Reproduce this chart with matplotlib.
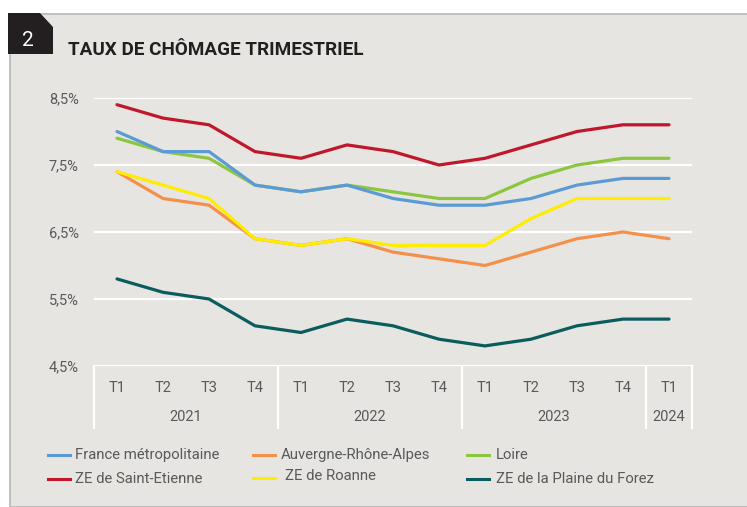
import matplotlib
matplotlib.use("Agg")
import matplotlib.pyplot as plt
import matplotlib.transforms as mtransforms
from matplotlib.patches import Rectangle, Polygon
from matplotlib.lines import Line2D

# donnees (taux de chomage, %)
quarters = ["T1", "T2", "T3", "T4", "T1", "T2", "T3", "T4", "T1", "T2", "T3", "T4", "T1"]
years = ["2021", "2022", "2023", "2024"]
year_centers = [1.5, 5.5, 9.5, 12]
year_bounds = [-0.5, 3.5, 7.5, 11.5, 12.5]

france = [8.0, 7.7, 7.7, 7.2, 7.1, 7.2, 7.0, 6.9, 6.9, 7.0, 7.2, 7.3, 7.3]
auvergne = [7.4, 7.0, 6.9, 6.4, 6.3, 6.4, 6.2, 6.1, 6.0, 6.2, 6.4, 6.5, 6.4]
loire = [7.9, 7.7, 7.6, 7.2, 7.1, 7.2, 7.1, 7.0, 7.0, 7.3, 7.5, 7.6, 7.6]
st_etienne = [8.4, 8.2, 8.1, 7.7, 7.6, 7.8, 7.7, 7.5, 7.6, 7.8, 8.0, 8.1, 8.1]
roanne = [7.4, 7.2, 7.0, 6.4, 6.3, 6.4, 6.3, 6.3, 6.3, 6.7, 7.0, 7.0, 7.0]
forez = [5.8, 5.6, 5.5, 5.1, 5.0, 5.2, 5.1, 4.9, 4.8, 4.9, 5.1, 5.2, 5.2]

yticks = [4.5, 5.5, 6.5, 7.5, 8.5]
ylabels = ["4,5%", "5,5%", "6,5%", "7,5%", "8,5%"]

series = [
    ("France métropolitaine", france, "#5B9BD5"),
    ("Auvergne-Rhône-Alpes", auvergne, "#F5904A"),
    ("Loire", loire, "#8CC63F"),
    ("ZE de Saint-Etienne", st_etienne, "#C1172C"),
    ("ZE de Roanne", roanne, "#FFEC00"),
    ("ZE de la Plaine du Forez", forez, "#0A5C5E"),
]
# ordre de trace (le jaune passe au-dessus de l'orange, etc.)
draw_order = [1, 4, 3, 2, 0, 5]

W, H = 747, 507
BG = "#E6E5E1"
TXT = "#58595B"

plt.rcParams["font.family"] = ["Roboto", "DejaVu Sans"]

fig = plt.figure(figsize=(W / 100, H / 100), dpi=100, facecolor="white")

def fx(px):
    return px / W

def fy(py):
    return 1 - py / H

# panneau gris
fig.patches.append(Rectangle((fx(10), 0), fx(W - 10 + 5), fy(14), transform=fig.transFigure,
                             facecolor=BG, edgecolor="#B8B8B8", lw=1.2, zorder=0))
# pastille noire "2"
badge = [(fx(8), fy(13)), (fx(40), fy(13)), (fx(53), fy(27)), (fx(53), fy(54)), (fx(8), fy(54))]
fig.patches.append(Polygon(badge, closed=True, transform=fig.transFigure,
                           facecolor="#231F20", edgecolor="none", zorder=1))
fig.text(fx(28), fy(40), "2", color="white", fontsize=15, ha="center", va="center")
fig.text(fx(68), fy(50), "TAUX DE CHÔMAGE TRIMESTRIEL", color="#231F20", fontsize=13.6,
         fontweight="bold", ha="left", va="center")

ax = fig.add_axes([fx(94), 1 - 366 / H, fx(692 - 94), (366 - 98) / H])
ax.set_zorder(5)
ax.set_facecolor("none")
for s in ax.spines.values():
    s.set_visible(False)

x = list(range(len(quarters)))
for i in draw_order:
    name, vals, col = series[i]
    ax.plot(x, vals, color=col, lw=2.3, solid_capstyle="round", solid_joinstyle="round", zorder=3)

ax.set_xlim(-0.5, 12.5)
ax.set_ylim(4.5, 8.5)
ax.set_yticks(yticks)
ax.set_yticklabels(ylabels)
ax.tick_params(axis="y", length=0, pad=11, labelsize=10.5, labelcolor=TXT)
ax.set_xticks([])
ax.grid(axis="y", color="white", lw=1.6, zorder=1)
ax.set_axisbelow(True)

# axe des categories
trans = mtransforms.blended_transform_factory(ax.transData, ax.transAxes)
for xb in year_bounds:
    ax.add_line(Line2D([xb, xb], [0, -(428 - 366) / 268], transform=trans, color="white",
                       lw=1.6, clip_on=False))
for i, q in enumerate(quarters):
    ax.text(i, -(388 - 366) / 268, q, transform=trans, ha="center", va="center",
            fontsize=10.5, color=TXT)
for xc, yr in zip(year_centers, years):
    ax.text(xc, -(417 - 366) / 268, yr, transform=trans, ha="center", va="center",
            fontsize=10.5, color=TXT)

# legende
leg_pos = [(48, 455), (253, 455), (467, 455), (48, 479), (253, 478), (467, 479)]
text_dx = [27, 28, 29, 27, 32, 29]
for (name, vals, col), (lx, ly), dx in zip(series, leg_pos, text_dx):
    fig.add_artist(Line2D([fx(lx), fx(lx + 22)], [fy(ly), fy(ly)], transform=fig.transFigure,
                          color=col, lw=2.2))
    ty = ly - 2 if name == "ZE de Roanne" else ly
    fig.text(fx(lx + dx), fy(ty), name, fontsize=10.7, color=TXT, ha="left", va="center")

fig.savefig("out.png", dpi=100, facecolor="white")
